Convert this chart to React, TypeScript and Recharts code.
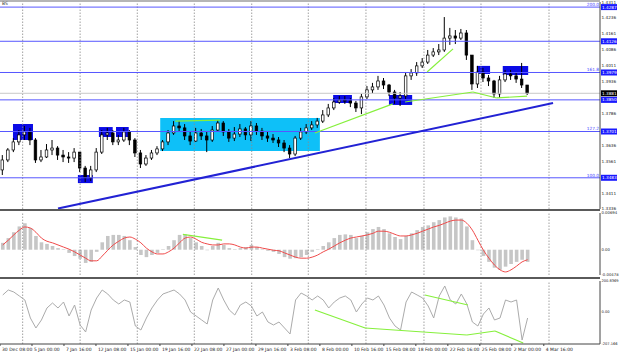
import React from "react"
import {
	ComposedChart,
	Bar,
	Line,
	XAxis,
	YAxis,
	ReferenceLine,
	ReferenceArea,
} from "recharts"

// price bars (H4 compressed)
const closes = [
	1.3567, 1.3614, 1.3652, 1.3685, 1.3699, 1.3661, 1.3567, 1.3581, 1.3614, 1.3623,
	1.359, 1.3581, 1.3576, 1.3604, 1.3529, 1.3482, 1.352, 1.3604, 1.3685, 1.3694,
	1.3652, 1.3661, 1.3699, 1.3661, 1.36, 1.3548, 1.3576, 1.36, 1.3619, 1.3652,
	1.3694, 1.3727, 1.3718, 1.368, 1.3656, 1.3694, 1.368, 1.3661, 1.3708, 1.3741,
	1.3699, 1.367, 1.3689, 1.3713, 1.3685, 1.3727, 1.3703, 1.368, 1.367, 1.3661,
	1.3647, 1.3623, 1.3595, 1.367, 1.3699, 1.3718, 1.3732, 1.375, 1.3779, 1.3812,
	1.384, 1.3849, 1.3845, 1.3835, 1.3812, 1.3864, 1.3897, 1.3911, 1.3939, 1.392,
	1.3887, 1.3859, 1.3868, 1.3963, 1.3977, 1.401, 1.4028, 1.4061, 1.4076, 1.4085,
	1.4141, 1.4151, 1.4141, 1.4165, 1.4061, 1.3925, 1.3981, 1.3953, 1.3939, 1.3878,
	1.3944, 1.3972, 1.3963, 1.3948, 1.392, 1.3881,
]
const highs = [
	1.359, 1.3623, 1.367, 1.3708, 1.3727, 1.3718, 1.367, 1.3614, 1.3642, 1.3661,
	1.3632, 1.3614, 1.3604, 1.3623, 1.3604, 1.3539, 1.3539, 1.3623, 1.3708, 1.3718,
	1.3708, 1.3685, 1.3718, 1.3708, 1.367, 1.3614, 1.359, 1.3614, 1.3632, 1.3661,
	1.3708, 1.375, 1.375, 1.3736, 1.3699, 1.3718, 1.3713, 1.3703, 1.3727, 1.3755,
	1.375, 1.3713, 1.3722, 1.3736, 1.3722, 1.375, 1.3741, 1.3718, 1.3699, 1.3689,
	1.3675, 1.3661, 1.3637, 1.368, 1.3718, 1.3736, 1.375, 1.3765, 1.3802, 1.3831,
	1.3859, 1.3868, 1.3868, 1.3859, 1.3845, 1.3878, 1.3915, 1.393, 1.3963, 1.3953,
	1.3925, 1.3897, 1.3887, 1.3977, 1.3995, 1.4028, 1.4047, 1.4085, 1.4094, 1.4113,
	1.424, 1.4189, 1.4179, 1.4184, 1.4179, 1.4061, 1.401, 1.4, 1.3967, 1.3944,
	1.3963, 1.3991, 1.3991, 1.3981, 1.4024, 1.392,
]
const lows = [
	1.3496, 1.3557, 1.3604, 1.3637, 1.3661, 1.3637, 1.3553, 1.3557, 1.3576, 1.359,
	1.3567, 1.3557, 1.3553, 1.3557, 1.351, 1.3463, 1.3468, 1.351, 1.3595, 1.3661,
	1.3637, 1.3637, 1.3652, 1.3637, 1.3581, 1.3529, 1.3539, 1.3567, 1.359, 1.3609,
	1.3637, 1.3685, 1.3699, 1.3661, 1.3637, 1.3652, 1.3661, 1.3604, 1.3652, 1.3699,
	1.368, 1.3652, 1.3656, 1.3675, 1.3661, 1.3656, 1.3685, 1.3661, 1.3652, 1.3647,
	1.3628, 1.3604, 1.3576, 1.3585, 1.3661, 1.3689, 1.3708, 1.3718, 1.3741, 1.3769,
	1.3802, 1.3831, 1.3831, 1.3816, 1.3793, 1.3783, 1.3854, 1.3882, 1.3897, 1.3901,
	1.3868, 1.3831, 1.3821, 1.3854, 1.3944, 1.3963, 1.4, 1.4019, 1.4052, 1.4061,
	1.4076, 1.4109, 1.4113, 1.4132, 1.4038, 1.3897, 1.3906, 1.3934, 1.3915, 1.3859,
	1.3859, 1.3934, 1.3944, 1.393, 1.3906, 1.3873,
]
const firstOpen = 1.352

// MACD histogram and signal line
const macdHist = [
	0.0013, 0.0022, 0.0033, 0.0044, 0.005, 0.0041, 0.0026, 0.0014, 0.0011, 0.0007,
	0.0003, 0.0001, -0.0006, -0.0012, -0.0017, -0.0025, -0.0023, -0.0004, 0.0014, 0.0026,
	0.0028, 0.0028, 0.0026, 0.0018, 0.0005, -0.001, -0.0014, -0.001, -0.0006, 0.0001,
	0.0007, 0.0018, 0.0028, 0.0029, 0.0022, 0.0014, 0.0007, -0.0001, 0.0007, 0.0013,
	0.0009, 0.0003, 0.0001, 0.0003, 0.0005, 0.0009, 0.0005, 0.0001, -0.0002, -0.0004,
	-0.0008, -0.0014, -0.0017, -0.0016, -0.0014, -0.001, -0.0004, 0.0001, 0.0007, 0.0014,
	0.0022, 0.0028, 0.0029, 0.0028, 0.0022, 0.0026, 0.0033, 0.0039, 0.0043, 0.0039,
	0.0031, 0.0024, 0.002, 0.0026, 0.0031, 0.0037, 0.0043, 0.0046, 0.0052, 0.0056,
	0.0061, 0.0063, 0.0061, 0.0059, 0.0044, 0.0018, -0.0001, -0.0012, -0.0023, -0.0034,
	-0.0038, -0.0032, -0.0027, -0.0023, -0.0019, -0.0023,
]
const macdSignal = [
	0.0009, 0.0018, 0.0028, 0.0037, 0.0043, 0.0041, 0.0033, 0.0022, 0.0016, 0.0013,
	0.0009, 0.0005, 0.0001, -0.0004, -0.001, -0.0016, -0.0021, -0.0021, -0.0012, -0.0001,
	0.0009, 0.0016, 0.0022, 0.0024, 0.002, 0.0013, 0.0003, -0.0004, -0.0008, -0.0008,
	-0.0004, 0.0003, 0.0013, 0.0022, 0.0024, 0.002, 0.0014, 0.0011, 0.0009, 0.0009,
	0.0011, 0.0011, 0.0009, 0.0005, 0.0003, 0.0005, 0.0005, 0.0003, 0.0001, -0.0001,
	-0.0002, -0.0006, -0.001, -0.0014, -0.0016, -0.0016, -0.0014, -0.001, -0.0004, 0.0001,
	0.0007, 0.0013, 0.0018, 0.0022, 0.0024, 0.0026, 0.0028, 0.0031, 0.0035, 0.0035,
	0.0033, 0.0029, 0.0026, 0.0026, 0.0028, 0.0031, 0.0035, 0.0039, 0.0043, 0.0046,
	0.005, 0.0054, 0.0056, 0.0056, 0.005, 0.0037, 0.0018, -0.0001, -0.0016, -0.0029,
	-0.0038, -0.0042, -0.0038, -0.0031, -0.0023, -0.0019,
]

// lower oscillator
const cci = [
	110.2, 142.6, 129.6, 103.7, 77.8, -38.8, -103.5, -51.7, 26, 58.4,
	26, 64.8, -25.8, 45.4, -84.1, -129.4, 13, 90.7, 142.6, 116.7,
	77.8, 51.9, 77.8, 64.8, -90.6, -116.5, -38.8, 26, 77.8, 116.7,
	129.6, 142.6, 116.7, 77.8, 0, -25.8, -51.7, -77.6, 77.8, 155.5,
	77.8, 13, -19.4, 45.4, 64.8, 38.9, -25.8, 0, -64.7, -84.1,
	-64.7, -103.5, -142.4, 77.8, 123.1, 103.7, 77.8, 103.7, 77.8, 26,
	64.8, 90.7, 103.7, 77.8, 0, 51.9, 90.7, 77.8, 103.7, 45.4,
	-38.8, -90.6, -116.5, 64.8, 129.6, 110.2, 90.7, 38.9, -38.8, 103.7,
	168.5, 77.8, 51.9, 116.7, 51.9, -64.7, -90.6, -12.9, 26, -51.7,
	-38.8, 77.8, 64.8, 77.8, -181.3, -38.8,
]

const timeLabels = [
	"30 Dec 08:00", "5 Jan 00:00", "7 Jan 16:00", "12 Jan 08:00", "15 Jan 00:00",
	"19 Jan 16:00", "22 Jan 08:00", "27 Jan 00:00", "29 Jan 16:00", "3 Feb 08:00",
	"8 Feb 00:00", "10 Feb 16:00", "15 Feb 08:00", "18 Feb 00:00", "22 Feb 16:00",
	"25 Feb 08:00", "2 Mar 00:00", "4 Mar 16:00",
]
// 1.3861, 1.3711 and 1.3486 sit under the tags, as in the terminal
const priceTicks = [
	1.4311, 1.4236, 1.4161, 1.4086, 1.4011, 1.3936, 1.3786, 1.3636,
	1.3561, 1.3411, 1.3336,
]
const macdTicks = [0.00694, 0, -0.00478]
const cciTicks = [200.8369, 0, -207.166]

// drawn objects
const levels = [
	{ value: 1.4287, fib: "200.0" },
	{ value: 1.4126, fib: "" },
	{ value: 1.3979, fib: "161.8" },
	{ value: 1.385, fib: "" },
	{ value: 1.3701, fib: "127.2" },
	{ value: 1.3483, fib: "100.0" },
]
const lastPrice = 1.3881
const blueBoxes = [
	{ x1: 1.85, x2: 5.47, y1: 1.3661, y2: 1.3736 },
	{ x1: 13.6, x2: 16.3, y1: 1.3458, y2: 1.3496 },
	{ x1: 17.4, x2: 19.9, y1: 1.3675, y2: 1.3722 },
	{ x1: 20.5, x2: 22.8, y1: 1.3675, y2: 1.3722 },
	{ x1: 59.8, x2: 63.2, y1: 1.3835, y2: 1.3873 },
	{ x1: 69.9, x2: 74.1, y1: 1.3826, y2: 1.3873 },
	{ x1: 85.8, x2: 88.2, y1: 1.3972, y2: 1.401 },
	{ x1: 90.5, x2: 95.1, y1: 1.3967, y2: 1.401 },
]
const rangeBox = { x1: 28.5, x2: 57.4, y1: 1.3609, y2: 1.3765 }
const trendLine = [{ x: 10, y: 1.3338 }, { x: 99.6, y: 1.3835 }]
const priceGreen = [
	[{ x: 31.2, y: 1.375 }, { x: 39.3, y: 1.3755 }],
	[{ x: 56.5, y: 1.3694 }, { x: 70.6, y: 1.3831 }],
	[{ x: 72.8, y: 1.384 }, { x: 85.1, y: 1.3887 }],
	[{ x: 85.1, y: 1.3887 }, { x: 89.4, y: 1.3859 }],
	[{ x: 89.4, y: 1.3859 }, { x: 94.9, y: 1.3868 }],
	[{ x: 76.8, y: 1.3981 }, { x: 81.5, y: 1.409 }],
]
const macdGreen = [[{ x: 32.6, y: 0.0029 }, { x: 39.7, y: 0.0018 }]]
const cciGreen = [
	[{ x: 56.5, y: 13 }, { x: 65.6, y: -103.5 }],
	[{ x: 65.6, y: -103.5 }, { x: 84.0, y: -148.9 }],
	[{ x: 84.0, y: -148.9 }, { x: 89.1, y: -123 }],
	[{ x: 89.1, y: -123 }, { x: 94.2, y: -200.7 }],
	[{ x: 76.4, y: 110.2 }, { x: 84.2, y: 45.4 }],
]
const gridX = [3.6, 14.0, 24.35, 34.67, 45.06, 55.3, 65.74, 76.24, 86.56, 98.87]

const xDomain: [number, number] = [-0.5, 108.1]
const labelStep = 5.79
const labelPos = timeLabels.map((_, k) => k * labelStep - 0.5)

const data = closes.map((c, i) => ({
	i,
	open: i === 0 ? firstOpen : closes[i - 1],
	close: c,
	high: highs[i],
	low: lows[i],
	range: [lows[i], highs[i]],
	hist: macdHist[i],
	signal: macdSignal[i],
	cci: cci[i],
}))

const FONT = "DejaVu Sans"
const W = 620
const LEVEL_BLUE = "#5757ff"
const GREEN = "#86f03c"

const Candle = (props: any) => {
	const { x, y, width, height, payload } = props
	if (!payload) return null
	const { open, close, high, low } = payload
	const top0 = Math.min(y, y + height)
	const h = Math.abs(height)
	const span = high - low || 1e-9
	const yOf = (v: number) => top0 + ((high - v) / span) * h
	const cx = x + width / 2
	const bTop = yOf(Math.max(open, close))
	const bBot = yOf(Math.min(open, close))
	const up = close >= open
	return (
		<g>
			<line x1={cx} x2={cx} y1={top0} y2={top0 + h} stroke="#000" strokeWidth={1} />
			<rect
				x={x}
				y={bTop}
				width={width}
				height={Math.max(bBot - bTop, 1)}
				fill={up ? "#fff" : "#000"}
				stroke="#000"
				strokeWidth={0.7}
			/>
		</g>
	)
}

const axisTag = (text: string, bg: string, fib?: string) => (props: any) => {
	const vb = props.viewBox || {}
	const right = (vb.x ?? 0) + (vb.width ?? 0)
	const y = vb.y ?? 0
	return (
		<g>
			{fib ? (
				<text x={right - 1} y={y - 1.2} textAnchor="end" fontSize={4.3} fill="#4646ff" fontFamily={FONT}>
					{fib}
				</text>
			) : null}
			<rect x={right + 1} y={y - 3} width={16} height={6} fill={bg} />
			<text x={right + 2} y={y + 1.6} fontSize={4.2} fill="#fff" fontFamily={FONT}>
				{text}
			</text>
		</g>
	)
}

const gridLines = gridX.map((g) => (
	<ReferenceLine key={"g" + g} x={g} stroke="#8a8a8a" strokeDasharray="1.5 1.5" strokeWidth={0.8} />
))

const XTick = (props: any) => {
	const { x, y, index } = props
	return (
		<text x={x + 2} y={y + 3} fontSize={4.5} fill="#222" fontFamily={FONT} textAnchor="start">
			{timeLabels[index]}
		</text>
	)
}

const rightAxis = (
	domain: [number, number],
	ticks: number[],
	fmt: (v: number) => string,
	size = 4.2,
) => (
	<YAxis
		orientation="right"
		width={20}
		type="number"
		domain={domain}
		allowDataOverflow
		ticks={ticks}
		interval={0}
		tick={{ fontSize: size, fill: "#222", fontFamily: FONT }}
		tickLine={false}
		tickSize={0}
		tickMargin={1.5}
		axisLine={{ stroke: "#444" }}
		tickFormatter={fmt}
	/>
)

export default function App() {
	return (
		<div style={{ position: "fixed", left: 0, top: 0, width: W, height: 357, background: "#fff", overflow: "hidden" }}>
			<div style={{ position: "absolute", left: 0, top: 0, width: 600, height: 2, background: "#b5b5b5" }} />
			<div style={{ position: "absolute", left: 2, top: 1, fontSize: 4.5, fontFamily: FONT, color: "#333" }}>BS</div>

			{/* price panel */}
			<div style={{ position: "absolute", left: 0, top: 0 }}>
				<ComposedChart width={W} height={211} data={data} margin={{ top: 2, right: 0, bottom: 2, left: 0 }}>
					<XAxis type="number" dataKey="i" domain={xDomain} hide allowDataOverflow />
					{rightAxis([1.3336, 1.4311], priceTicks, (v) => v.toFixed(4))}
					{gridLines}
					<ReferenceArea {...rangeBox} fill="#0ec0f8" fillOpacity={1} stroke="none" />
					{blueBoxes.map((b, k) => (
						<ReferenceArea key={"b" + k} {...b} fill="#0b0be6" fillOpacity={1} stroke="none" />
					))}
					<ReferenceLine y={lastPrice} stroke="#c8c8c8" label={axisTag(lastPrice.toFixed(4), "#000")} />
					{levels.map((l) => (
						<ReferenceLine
							key={"l" + l.value}
							y={l.value}
							stroke={LEVEL_BLUE}
							strokeWidth={1}
							label={axisTag(l.value.toFixed(4), "#1a1aff", l.fib)}
						/>
					))}
					<ReferenceLine segment={trendLine} stroke="#2222d4" strokeWidth={2} />
					{priceGreen.map((s, k) => (
						<ReferenceLine key={"pg" + k} segment={s} stroke={GREEN} strokeWidth={1.2} />
					))}
					<Bar dataKey="range" barSize={2.6} shape={<Candle />} isAnimationActive={false} />
				</ComposedChart>
			</div>

			<div style={{ position: "absolute", left: 0, top: 209, width: 600, height: 2, background: "#5a5a5a" }} />

			{/* MACD panel */}
			<div style={{ position: "absolute", left: 0, top: 211 }}>
				<ComposedChart width={W} height={66} data={data} margin={{ top: 2, right: 0, bottom: 2, left: 0 }}>
					<XAxis type="number" dataKey="i" domain={xDomain} hide allowDataOverflow />
					{rightAxis([-0.00478, 0.00694], macdTicks, (v) => (v === 0 ? "0.00" : String(v)), 3.8)}
					{gridLines}
					<Bar dataKey="hist" fill="#c6c6c6" barSize={3.6} isAnimationActive={false} />
					<Line dataKey="signal" type="monotone" stroke="#f04a4a" strokeWidth={1} dot={false} isAnimationActive={false} />
					{macdGreen.map((s, k) => (
						<ReferenceLine key={"mg" + k} segment={s} stroke={GREEN} strokeWidth={1.2} />
					))}
				</ComposedChart>
			</div>

			<div style={{ position: "absolute", left: 0, top: 277, width: 600, height: 2, background: "#5a5a5a" }} />

			{/* oscillator panel */}
			<div style={{ position: "absolute", left: 0, top: 278 }}>
				<ComposedChart width={W} height={79} data={data} margin={{ top: 3, right: 0, bottom: 0, left: 0 }}>
					<XAxis
						type="number"
						dataKey="i"
						domain={xDomain}
						allowDataOverflow
						ticks={labelPos}
						interval={0}
						height={13}
						tick={<XTick />}
						tickSize={2}
						tickLine={{ stroke: "#444" }}
						axisLine={{ stroke: "#444" }}
					/>
					{rightAxis([-207.166, 200.8369], cciTicks, (v) => (v === 0 ? "0.00" : String(v)), 3.6)}
					{gridLines}
					<Line dataKey="cci" type="linear" stroke="#ababab" strokeWidth={1} dot={false} isAnimationActive={false} />
					{cciGreen.map((s, k) => (
						<ReferenceLine key={"cg" + k} segment={s} stroke={GREEN} strokeWidth={1.2} />
					))}
				</ComposedChart>
			</div>
		</div>
	)
}
